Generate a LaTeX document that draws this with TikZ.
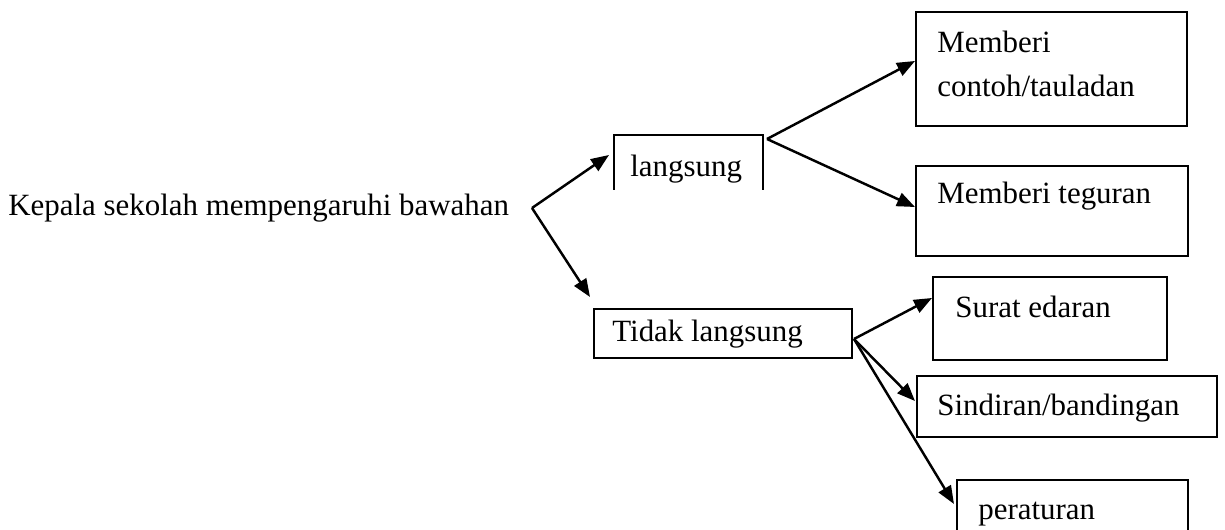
\documentclass[tikz,border=0pt]{standalone}
\usepackage{fontspec}
\setmainfont{Liberation Serif}
\usetikzlibrary{arrows.meta}
\begin{document}
\begin{tikzpicture}[x=0.02cm,y=-0.02cm,
  txt/.style={inner sep=0pt,anchor=base west,font=\fontsize{17.6}{25}\selectfont},
  boxn/.style={draw,line width=1.1pt,inner sep=0pt},
  arr/.style={line width=1.4pt,-{Triangle[length=0.36cm,width=0.28cm]}}]
\useasboundingbox (0,0) rectangle (1225,530);
% main text
\node[txt] (kepala) at (8,216) {Kepala sekolah mempengaruhi bawahan};
\coordinate (v0) at (532,208);
% langsung (open box)
\coordinate (lgTL) at (614,135);
\coordinate (lgTR) at (763,135);
\draw[line width=1.1pt] (614,190) -- (lgTL) -- (lgTR) -- (763,190);
\node[txt] (langsung) at (630,177) {langsung};
\coordinate (v1) at (767,139);
% boxes right top
\node[boxn,minimum width=271*0.02cm,minimum height=114*0.02cm] (contoh) at (1051.5,69) {};
\node[txt,align=left,anchor=north west] (contohT) at (937,31) {Memberi\\contoh/tauladan};
\node[boxn,minimum width=272*0.02cm,minimum height=90*0.02cm] (teguran) at (1052,211) {};
\node[txt] (teguranT) at (937,204) {Memberi teguran};
% tidak langsung
\node[boxn,minimum width=258*0.02cm,minimum height=49*0.02cm] (tidak) at (723,333.5) {};
\node[txt] (tidakT) at (612,342) {Tidak langsung};
\coordinate (v2) at (854,339);
% lower right boxes
\node[boxn,minimum width=234*0.02cm,minimum height=83*0.02cm] (surat) at (1050,318.5) {};
\node[txt] (suratT) at (955,318) {Surat edaran};
\node[boxn,minimum width=300*0.02cm,minimum height=61*0.02cm] (sindiran) at (1067,406.5) {};
\node[txt] (sindiranT) at (937,416) {Sindiran/bandingan};
\coordinate (perTL) at (957,480);
\coordinate (perTR) at (1188,480);
\draw[line width=1.1pt] (957,531) -- (perTL) -- (perTR) -- (1188,531);
\node[txt] (peraturanT) at (978,520) {peraturan};
% arrow tips
\coordinate (t1) at (609,155);
\coordinate (t2) at (590,297);
\coordinate (t3) at (915,61);
\coordinate (t4) at (915,207);
\coordinate (t5) at (932,298);
\coordinate (t6) at (915,401);
\coordinate (t7) at (954,504);
% connectors
\draw[arr] (v0) -- (t1);
\draw[arr] (v0) -- (t2);
\draw[arr] (v1) -- (t3);
\draw[arr] (v1) -- (t4);
\draw[arr] (v2) -- (t5);
\draw[arr] (v2) -- (t6);
\draw[arr] (v2) -- (t7);
\end{tikzpicture}
\end{document}
